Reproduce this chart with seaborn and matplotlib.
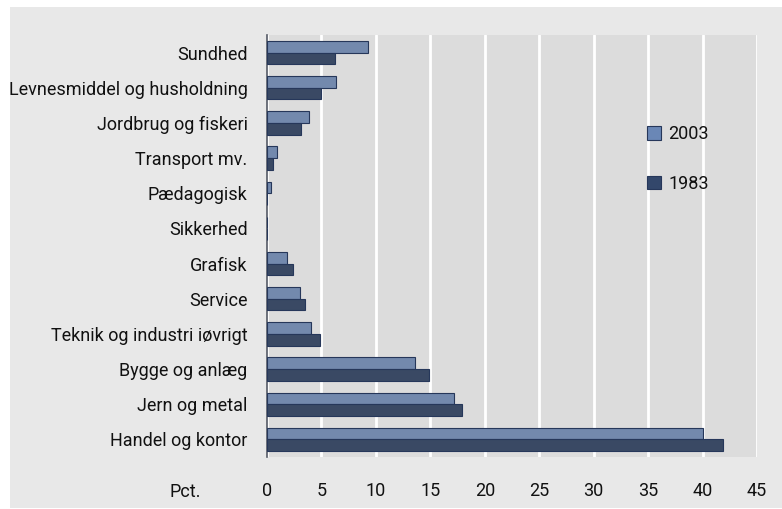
import pandas as pd
import numpy as np
import matplotlib.pyplot as plt
import matplotlib.patches as mpatches
import seaborn as sns

categories = ['Sundhed', 'Levnesmiddel og husholdning', 'Jordbrug og fiskeri',
              'Transport mv.', 'Pædagogisk', 'Sikkerhed', 'Grafisk', 'Service',
              'Teknik og industri iøvrigt', 'Bygge og anlæg', 'Jern og metal',
              'Handel og kontor']
pct_2003 = [9.3, 6.3, 3.9, 0.9, 0.4, 0.0, 1.8, 3.0, 4.0, 13.6, 17.2, 40.0]
pct_1983 = [6.2, 5.0, 3.1, 0.55, 0.0, 0.0, 2.4, 3.5, 4.9, 14.9, 17.9, 41.9]
years = ['2003', '1983']
colors = ['#6a87b6', '#33476b']

data = pd.DataFrame({
    'category': categories * 2,
    'pct': pct_2003 + pct_1983,
    'year': [years[0]] * len(categories) + [years[1]] * len(categories),
})

sns.set_style('white')
plt.rcParams['font.family'] = ['Roboto', 'DejaVu Sans']

fig = plt.figure(figsize=(7.82, 5.09), dpi=100)
fig.patch.set_facecolor('white')
# grey panel behind everything
fig.patches.append(mpatches.Rectangle((10 / 782, 1 / 509), 1 - 10 / 782, 501 / 509,
                                      transform=fig.transFigure, facecolor='#e8e8e8',
                                      edgecolor='none', zorder=-10))

ax = fig.add_axes([267 / 782, 52 / 509, 490 / 782, 422 / 509])
ax.set_facecolor('#dcdcdc')

sns.barplot(data=data, y='category', x='pct', hue='year', hue_order=years,
            palette=colors, orient='h', width=0.66, edgecolor='#26375a',
            linewidth=0.8, ax=ax, legend=False, zorder=3)

ax.set_xlim(0, 45)
ax.set_xticks(np.arange(0, 46, 5))
ax.xaxis.grid(True, color='white', linewidth=2, zorder=1)
ax.set_axisbelow(True)
ax.set_xlabel('')
ax.set_ylabel('')
for s in ['top', 'right', 'bottom']:
    ax.spines[s].set_visible(False)
ax.spines['left'].set_color('#555a66')
ax.spines['left'].set_linewidth(1.2)
ax.tick_params(axis='both', length=0, labelsize=13, colors='#111111')
ax.tick_params(axis='x', pad=18)
ax.tick_params(axis='y', pad=14)

fig.text(185 / 782, 1 - 492 / 509, 'Pct.', fontsize=13, ha='center', va='center',
         color='#111111')

handles = [mpatches.Patch(facecolor=c, edgecolor='#26375a', linewidth=0.8) for c in colors]
ax.legend(handles, years, loc='upper left', bbox_to_anchor=(0.742, 0.825), frameon=False,
          fontsize=13, handlelength=0.8, handleheight=0.8, handletextpad=0.4,
          labelspacing=1.75, labelcolor='#111111')

fig.savefig('out.png', dpi=100, facecolor=fig.get_facecolor())
